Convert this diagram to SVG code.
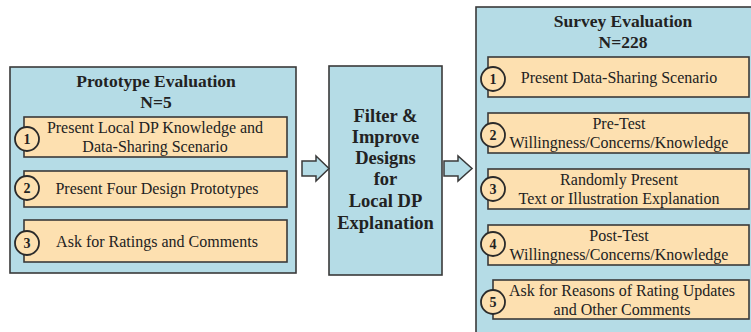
<svg xmlns="http://www.w3.org/2000/svg" width="751" height="332" viewBox="0 0 751 332">
<style>
.panel{fill:#b5dce6;stroke:#3a3a3a;stroke-width:1.6}
.step{fill:#fde0b0;stroke:#3a3a3a;stroke-width:1.6}
.num{fill:#fde0b0;stroke:#2a2a2a;stroke-width:1.8}
.title{font-family:"Liberation Serif",serif;font-weight:bold;font-size:17.5px;fill:#222;text-anchor:middle}
.mid{font-family:"Liberation Serif",serif;font-weight:bold;font-size:18.5px;fill:#222;text-anchor:middle}
.txt{font-family:"Liberation Serif",serif;font-size:16px;fill:#222;text-anchor:middle}
.n{font-family:"Liberation Serif",serif;font-weight:bold;font-size:14px;fill:#222;text-anchor:middle}
.arrow{fill:#b5dce6;stroke:#3a3a3a;stroke-width:1.5;stroke-linejoin:miter}
</style>
<rect width="751" height="332" fill="#ffffff"/>
<g id="prototype">
<rect class="panel" x="10" y="67" width="286" height="206"/>
<text class="title" x="156" y="87">Prototype Evaluation</text>
<text class="title" x="156" y="108">N=5</text>
</g>
<g id="p1">
<rect class="step" x="24" y="117" width="263" height="40"/>
<text class="txt" x="155" y="133">Present Local DP Knowledge and</text>
<text class="txt" x="155" y="152">Data-Sharing Scenario</text>
<circle class="num" cx="27" cy="139" r="12"/>
<text class="n" x="27" y="144">1</text>
</g>
<g id="p2">
<rect class="step" x="24" y="171" width="263" height="36"/>
<text class="txt" x="157" y="194">Present Four Design Prototypes</text>
<circle class="num" cx="27" cy="188" r="12"/>
<text class="n" x="27" y="193">2</text>
</g>
<g id="p3">
<rect class="step" x="24" y="220" width="263" height="42"/>
<text class="txt" x="157" y="247">Ask for Ratings and Comments</text>
<circle class="num" cx="27" cy="243" r="12"/>
<text class="n" x="27" y="248">3</text>
</g>
<g id="filter">
<rect class="panel" x="329" y="66" width="113" height="209"/>
<text class="mid" x="385.5" y="122">Filter &amp;</text>
<text class="mid" x="385.5" y="143">Improve</text>
<text class="mid" x="385.5" y="164">Designs</text>
<text class="mid" x="385.5" y="185">for</text>
<text class="mid" x="385.5" y="207">Local DP</text>
<text class="mid" x="385.5" y="229">Explanation</text>
</g>
<g id="survey">
<rect class="panel" x="476" y="7" width="285" height="335"/>
<text class="title" x="623" y="27">Survey Evaluation</text>
<text class="title" x="623" y="48">N=228</text>
</g>
<g id="s1">
<rect class="step" x="488" y="57" width="261" height="40"/>
<text class="txt" x="619" y="83">Present Data-Sharing Scenario</text>
<circle class="num" cx="493" cy="79" r="12"/>
<text class="n" x="493" y="84">1</text>
</g>
<g id="s2">
<rect class="step" x="488" y="113" width="261" height="40"/>
<text class="txt" x="619" y="129">Pre-Test</text>
<text class="txt" x="619" y="148">Willingness/Concerns/Knowledge</text>
<circle class="num" cx="493" cy="135" r="12"/>
<text class="n" x="493" y="140">2</text>
</g>
<g id="s3">
<rect class="step" x="488" y="169" width="261" height="40"/>
<text class="txt" x="619" y="185">Randomly Present</text>
<text class="txt" x="619" y="204">Text or Illustration Explanation</text>
<circle class="num" cx="493" cy="189" r="12"/>
<text class="n" x="493" y="194">3</text>
</g>
<g id="s4">
<rect class="step" x="488" y="225" width="261" height="40"/>
<text class="txt" x="619" y="241">Post-Test</text>
<text class="txt" x="619" y="260">Willingness/Concerns/Knowledge</text>
<circle class="num" cx="493" cy="244" r="12"/>
<text class="n" x="493" y="249">4</text>
</g>
<g id="s5">
<rect class="step" x="493" y="280" width="256" height="39"/>
<text class="txt" x="622" y="296">Ask for Reasons of Rating Updates</text>
<text class="txt" x="622" y="315">and Other Comments</text>
<circle class="num" cx="493" cy="302" r="12"/>
<text class="n" x="493" y="307">5</text>
</g>
<g id="connectors">
<path class="arrow" d="M302,161 H316 V156 L329,168.5 L316,181 V176 H302 Z"/>
<path class="arrow" d="M444,161 H458 V156 L472,168.5 L458,181 V176 H444 Z"/>
</g>
</svg>
